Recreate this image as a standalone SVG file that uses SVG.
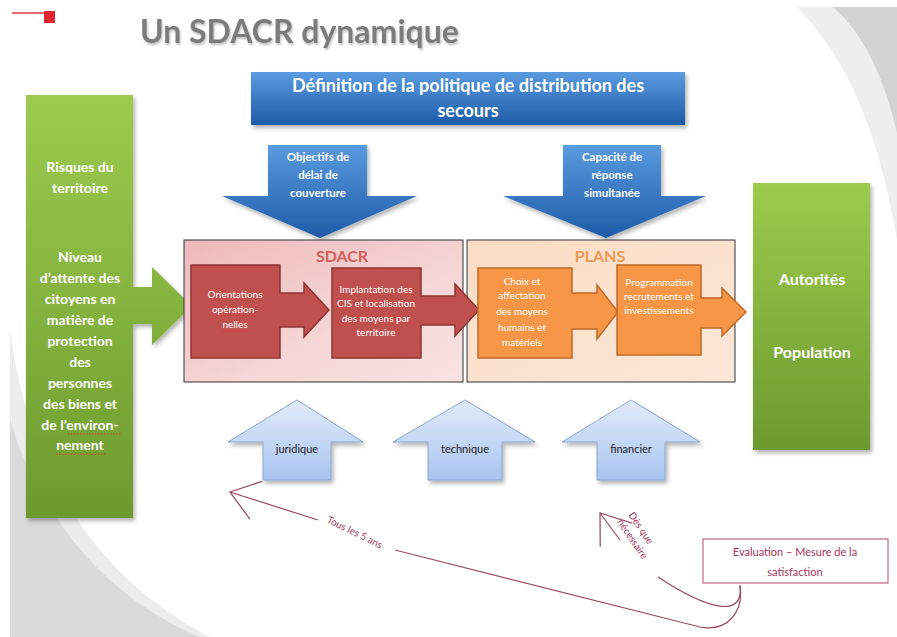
<svg xmlns="http://www.w3.org/2000/svg" width="897" height="637" viewBox="0 0 897 637">
<defs>
<linearGradient id="gGreen" x1="0" y1="0" x2="0" y2="1"><stop offset="0" stop-color="#9dcb4d"/><stop offset="1" stop-color="#6c9a2e"/></linearGradient>
<linearGradient id="gBlue" x1="0" y1="0" x2="0" y2="1"><stop offset="0" stop-color="#5a9be0"/><stop offset="1" stop-color="#1e5ba8"/></linearGradient>
<linearGradient id="gLight" x1="0" y1="0" x2="0" y2="1"><stop offset="0" stop-color="#e2ecfa"/><stop offset="1" stop-color="#a8c4ef"/></linearGradient>
<linearGradient id="gPink" x1="0" y1="0" x2="1" y2="1"><stop offset="0" stop-color="#eeb9bb"/><stop offset="0.6" stop-color="#f6d6d6"/><stop offset="1" stop-color="#f9e3e3"/></linearGradient>
<linearGradient id="gPeach" x1="0" y1="0" x2="1" y2="1"><stop offset="0" stop-color="#fbdcc4"/><stop offset="1" stop-color="#fbe7d8"/></linearGradient>
<filter id="sh" x="-10%" y="-10%" width="130%" height="130%"><feDropShadow dx="2" dy="3" stdDeviation="2" flood-color="#000" flood-opacity="0.3"/></filter>
<filter id="tsh" x="-5%" y="-20%" width="110%" height="150%"><feDropShadow dx="1" dy="2" stdDeviation="1" flood-color="#000" flood-opacity="0.25"/></filter>
<marker id="open" markerUnits="userSpaceOnUse" markerWidth="34" markerHeight="44" viewBox="0 -21 32 42" refX="30" refY="0" orient="auto"><path d="M4,-19 L30,0 L4,19" fill="none" stroke="#9a4a5c" stroke-width="1.2"/></marker>
</defs>
<style>
text{font-family:Lato,"Open Sans","Liberation Sans",sans-serif}
.w{fill:#fff;font-weight:bold;text-anchor:middle}
.gt{font-size:14px}
.bt{font-size:11.5px}
.st{font-size:10px;font-weight:normal}
.lt{fill:#222;font-size:11px;text-anchor:middle}
.cv{fill:none;stroke:#9a4a5c;stroke-width:1.2}
.ul{stroke:#e03030;stroke-width:1;stroke-dasharray:1.5 1.5}
.rd{fill:#a5355a;font-size:11px;text-anchor:middle}
.sm{fill:#a5355a;font-size:10px}
</style>
<rect width="897" height="637" fill="#fff"/>
<g id="background">
<path d="M797,7 H897 V240 C880,140 850,60 797,7 Z" fill="#eeeeee"/>
<path d="M833,7 H897 V133 C885,80 865,35 833,7 Z" fill="#d3d3d3"/>
<path d="M10,330 C30,480 100,580 210,637 H10 Z" fill="#ececec"/>
<path d="M10,420 C40,520 110,600 200,637 H10 Z" fill="#dadada"/>
<path d="M12,13 H44" stroke="#e23a3a" stroke-width="1.5"/>
<rect x="44" y="11" width="11" height="12" fill="#e0262e"/>
</g>
<g id="title"><text x="140" y="43" font-size="32" font-weight="bold" fill="#7b7b7b" filter="url(#tsh)">Un SDACR dynamique</text></g>
<g id="politique">
<rect x="251" y="72" width="434" height="53" fill="url(#gBlue)" filter="url(#sh)"/>
<text class="w" x="468" y="92" font-size="18">Définition de la politique de distribution des</text>
<text class="w" x="468" y="117" font-size="18">secours</text>
</g>
<g id="objectifs">
<path d="M268,145 H367 V196 H417 L320,238 L222,196 H268 Z" fill="url(#gBlue)" filter="url(#sh)"/>
<text class="w bt" x="318" y="161">Objectifs de</text>
<text class="w bt" x="318" y="179">délai de</text>
<text class="w bt" x="318" y="197">couverture</text>
</g>
<g id="capacite">
<path d="M563,145 H661 V196 H706 L606,238 L503,196 H563 Z" fill="url(#gBlue)" filter="url(#sh)"/>
<text class="w bt" x="612" y="161">Capacité de</text>
<text class="w bt" x="612" y="179">réponse</text>
<text class="w bt" x="612" y="197">simultanée</text>
</g>
<g id="risques">
<path d="M26,95 H133 V287 H152 V267 L192,306 L152,345 V324 H133 V518 H26 Z" fill="url(#gGreen)" filter="url(#sh)"/>
<g class="w gt">
<text x="80" y="172">Risques du</text>
<text x="80" y="193">territoire</text>
<text x="80" y="262">Niveau</text>
<text x="80" y="283">d’attente des</text>
<text x="80" y="304">citoyens en</text>
<text x="80" y="325">matière de</text>
<text x="80" y="346">protection</text>
<text x="80" y="367">des</text>
<text x="80" y="388">personnes</text>
<text x="80" y="409">des biens et</text>
<text x="80" y="430">de l’environ-</text>
<text x="80" y="450">nement</text>
</g>
<path class="ul" d="M68,434 H122 M56,454 H105"/>
</g>
<g id="autorites">
<rect x="753" y="183" width="117" height="267" fill="url(#gGreen)" filter="url(#sh)"/>
<text class="w" x="812" y="285" font-size="16">Autorités</text>
<text class="w" x="812" y="358" font-size="16">Population</text>
</g>
<g id="sdacr">
<rect x="184" y="240" width="279" height="142" fill="url(#gPink)" stroke="#333" stroke-width="1"/>
<text x="342" y="262" font-size="16" font-weight="bold" fill="#d0605c" text-anchor="middle">SDACR</text>
</g>
<g id="plans">
<rect x="467" y="240" width="268" height="142" fill="url(#gPeach)" stroke="#333" stroke-width="1"/>
<text x="600" y="262" font-size="16" font-weight="bold" fill="#ee9a58" text-anchor="middle">PLANS</text>
</g>
<g id="orientations">
<path d="M191,265 H280 V293 H304 V283 L329,310 L304,337 V327 H280 V358 H191 Z" fill="#c0504d" stroke="#8e3532" stroke-width="1.5"/>
<text class="w st" x="235" y="298">Orientations</text>
<text class="w st" x="235" y="313">opération-</text>
<text class="w st" x="235" y="328">nelles</text>
<path class="ul" d="M212,316 H258 M222,331 H248"/>
</g>
<g id="implantation">
<path d="M332,268 H421 V296 H455 V284 L479,310 L455,336 V325 H421 V358 H332 Z" fill="#c0504d" stroke="#8e3532" stroke-width="1.5"/>
<text class="w st" x="376" y="293">Implantation des</text>
<text class="w st" x="376" y="307">CIS et localisation</text>
<text class="w st" x="376" y="322">des moyens par</text>
<text class="w st" x="376" y="336">territoire</text>
</g>
<g id="choix">
<path d="M478,268 H572 V293 H597 V285 L618,312 L597,339 V329 H572 V358 H478 Z" fill="#f79646" stroke="#c06a28" stroke-width="1.5"/>
<text class="w st" x="522" y="285">Choix et</text>
<text class="w st" x="522" y="299">affectation</text>
<text class="w st" x="522" y="315">des  moyens</text>
<text class="w st" x="522" y="331">humains  et</text>
<text class="w st" x="522" y="346">matériels</text>
</g>
<g id="programmation">
<path d="M617,265 H701 V298 H722 V288 L746,312 L722,336 V328 H701 V355 H617 Z" fill="#f79646" stroke="#c06a28" stroke-width="1.5"/>
<text class="w st" x="659" y="286">Programmation</text>
<text class="w st" x="659" y="300">recrutements et</text>
<text class="w st" x="659" y="314">investissements</text>
</g>
<g id="juridique">
<path d="M297,400 L363,442 H331 V480 H263 V442 H228 Z" fill="url(#gLight)" stroke="#8aa6cf" filter="url(#sh)"/>
<text class="lt" x="297" y="453">juridique</text>
</g>
<g id="technique">
<path d="M465,400 L535,442 H502 V480 H428 V442 H393 Z" fill="url(#gLight)" stroke="#8aa6cf" filter="url(#sh)"/>
<text class="lt" x="465" y="453">technique</text>
</g>
<g id="financier">
<path d="M631,400 L700,442 H665 V480 H597 V442 H562 Z" fill="url(#gLight)" stroke="#8aa6cf" filter="url(#sh)"/>
<text class="lt" x="631" y="453">financier</text>
</g>
<g id="evaluation">
<rect x="703" y="539" width="185" height="44" fill="#fff" stroke="#b24a66" stroke-width="1"/>
<text class="rd" x="795" y="556">Evaluation – Mesure de la</text>
<text class="rd" x="795" y="576">satisfaction</text>
</g>
<g id="connectors">
<path class="cv" d="M740,585 C744,612 728,632 700,627 L395,550"/>
<path class="cv" d="M318,520 L230,492" marker-end="url(#open)"/>
<text class="sm" transform="translate(326,522) rotate(26)">Tous les 5 ans</text>
<path class="cv" d="M740,586 C744,620 705,608 658,577"/>
<path class="cv" d="M620,540 L600,513" marker-end="url(#open)"/>
<text class="sm" transform="translate(628,515) rotate(56)">Dès que</text>
<text class="sm" transform="translate(617,522) rotate(56)">nécessaire</text>
</g>
</svg>
